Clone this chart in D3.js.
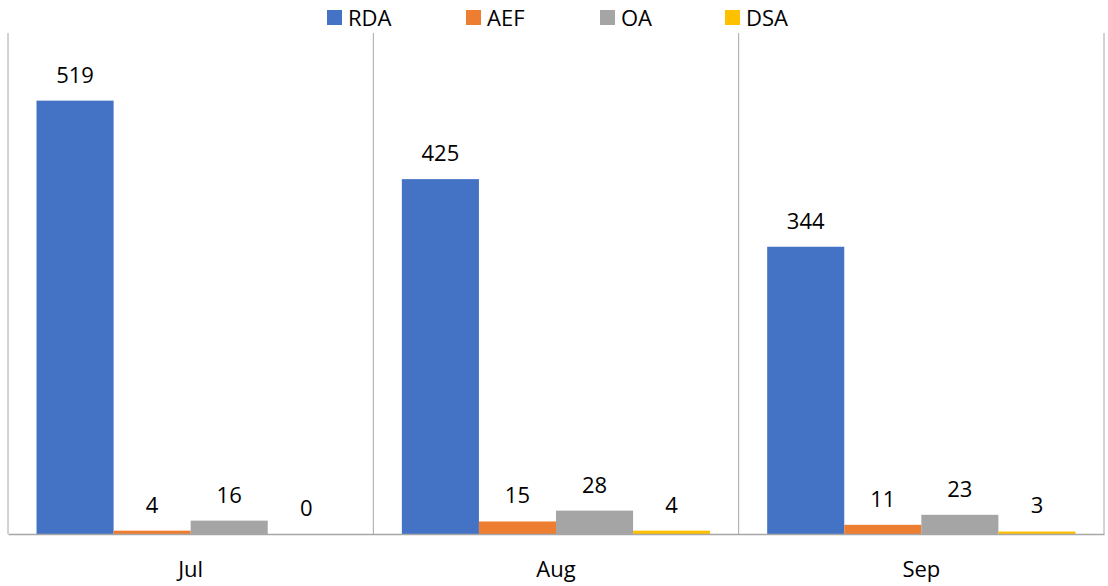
<!DOCTYPE html>
<html>
<head>
<meta charset="utf-8">
<script src="https://cdn.jsdelivr.net/npm/d3@7/dist/d3.min.js"></script>
<style>
  html, body { margin: 0; padding: 0; background: #fff; }
  svg { display: block; font-family: "Open Sans", "Noto Sans", sans-serif; }
</style>
</head>
<body>
<svg id="chart" width="1108" height="586"></svg>
<script>
// Monthly counts per series
const months = ["Jul", "Aug", "Sep"];
const seriesNames = ["RDA", "AEF", "OA", "DSA"];
const RDA = [519, 425, 344];
const AEF = [4, 15, 11];
const OA  = [16, 28, 23];
const DSA = [0, 4, 3];
const colors = ["#4472C4", "#ED7D31", "#A5A5A5", "#FFC000"];
const yMax = 600;

const seriesValues = [RDA, AEF, OA, DSA];
const rows = months.map((m, i) => ({
  month: m,
  values: seriesNames.map((s, j) => ({ key: s, value: seriesValues[j][i] }))
}));

const svg = d3.select("#chart");
const margin = { left: 8, right: 4, top: 33, bottom: 52 };
const width = 1108, height = 586;
const baseY = height - margin.bottom;
const fontSize = 22;

const x0 = d3.scaleBand().domain(months).range([margin.left, width - margin.right]).paddingInner(0).paddingOuter(0);
const x1 = d3.scaleBand().domain(seriesNames).range([0, x0.bandwidth()]).paddingInner(0).paddingOuter(0.37);
const y = d3.scaleLinear().domain([0, yMax]).range([baseY, margin.top]);

// Vertical separators between categories
const sepXs = months.map(m => x0(m)).concat([x0(months[months.length - 1]) + x0.bandwidth()]);
svg.append("g").selectAll("line").data(sepXs).join("line")
  .attr("x1", d => d).attr("x2", d => d)
  .attr("y1", margin.top).attr("y2", baseY)
  .attr("stroke", "#A6A6A6").attr("stroke-width", 1);

// Bars
const groups = svg.append("g").selectAll("g").data(rows).join("g")
  .attr("transform", d => `translate(${x0(d.month)},0)`);

groups.selectAll("rect").data(d => d.values).join("rect")
  .attr("x", d => x1(d.key))
  .attr("width", x1.bandwidth())
  .attr("y", d => y(d.value))
  .attr("height", d => baseY - y(d.value))
  .attr("fill", (d, i) => colors[i]);

// Value labels
groups.selectAll("text").data(d => d.values).join("text")
  .attr("x", d => x1(d.key) + x1.bandwidth() / 2)
  .attr("y", d => y(d.value) - 18)
  .attr("text-anchor", "middle")
  .attr("font-size", fontSize)
  .attr("fill", "#000")
  .text(d => d.value);

// Category axis
const xAxis = d3.axisBottom(x0).tickSize(0).tickPadding(27);
const ax = svg.append("g").attr("transform", `translate(0,${baseY})`).call(xAxis);
ax.select(".domain").attr("stroke", "#A6A6A6").attr("stroke-width", 1.5);
ax.selectAll("text").attr("font-size", fontSize).attr("fill", "#000")
  .attr("font-family", "'Open Sans', 'Noto Sans', sans-serif");

// Legend
const legendX = [327, 466, 600, 725];
const legend = svg.append("g").selectAll("g").data(seriesNames).join("g")
  .attr("transform", (d, i) => `translate(${legendX[i]},10)`);
legend.append("rect").attr("width", 15).attr("height", 15).attr("fill", (d, i) => colors[i]);
legend.append("text").attr("x", 21).attr("y", 16)
  .attr("font-size", fontSize).attr("fill", "#000").text(d => d);
</script>
</body>
</html>
